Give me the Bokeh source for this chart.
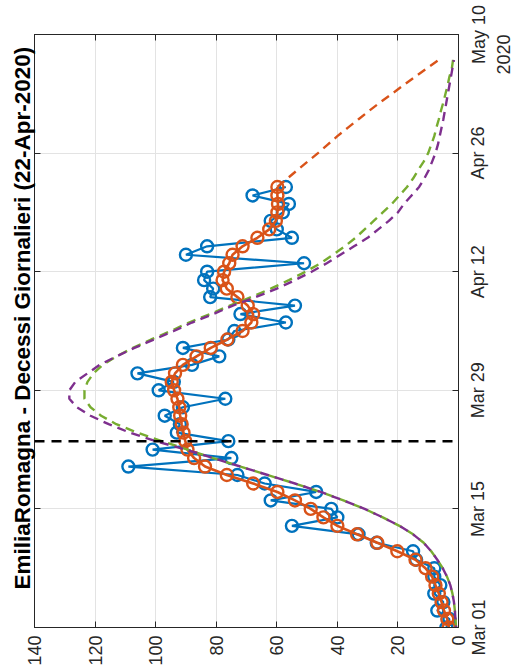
import math
import pandas as pd
from bokeh.plotting import figure
from bokeh.layouts import row
from bokeh.models import (Range1d, FixedTicker, DatetimeTickFormatter, LinearAxis,
                          DatetimeAxis, Span, Title)
from bokeh.embed import file_html
from bokeh.resources import INLINE

# ---------------- data ----------------
start_date = "2020-03-01"
end_date = "2020-05-10"
last_date = "2020-04-22"
lockdown_date = "2020-03-23"
date_ticks = ["2020-03-01", "2020-03-15", "2020-03-29", "2020-04-12", "2020-04-26", "2020-05-10"]
value_ticks = [0, 20, 40, 60, 80, 100, 120, 140]
title_text = "EmiliaRomagna - Decessi Giornalieri (22-Apr-2020)"
year_text = "2020"

daily_deaths = [4, 3, 7, 5, 8, 6, 8, 8, 14, 15, 27, 33, 55, 40, 42, 62, 47, 64, 73, 109,
                75, 101, 76, 93, 92, 97, 91, 77, 99, 94, 106, 88, 79, 91, 76, 74, 57, 72,
                54, 82, 81, 84, 83, 51, 90, 83, 55, 60, 62, 58, 56, 68, 57]
smoothed = [3.2, 3.7, 4.8, 5.6, 6.5, 7.6, 8.7, 10.9, 14.2, 20.2, 26.8, 33.5, 40, 44.6, 48.8,
            54, 59.8, 67.8, 76.5, 83.7, 87.3, 89.5, 90.2, 90.8, 91.4, 91.9, 92.2, 92.8, 93.9,
            94.7, 93.6, 91, 86.5, 81.8, 76.3, 71.3, 68.4, 67.8, 69.6, 73, 76.5, 77.9, 77.4,
            75.7, 74.6, 71.3, 66.4, 62.5, 60.3, 59.8, 59.6, 59.8, 59.8]
projection = [59.8, 56.5, 53.2, 49.8, 46.4, 43.2, 40, 36.5, 33, 29.5, 25.8, 22, 18.2, 14.4,
              10.5, 6.5]
fit_green = [0.8, 1, 1.2, 1.5, 2, 2.7, 3.8, 5.2, 7, 9, 11.5, 15, 19.5, 25, 31, 38, 45.5, 54,
             63, 72, 81, 89.5, 98, 106, 113, 118, 121.5, 123.5, 123.5, 122.5, 120.5, 117.5,
             113, 107.5, 101.5, 95, 89, 82, 75.5, 68.5, 62, 56, 50.5, 45.5, 41.5, 37.5, 34,
             31, 28, 25, 22, 19.5, 17, 15, 13.3, 11.5, 10, 9, 8, 7.3, 6.5, 5.8, 5, 4.3, 3.6,
             3, 2.2, 1.8]
fit_purple = [0.8, 1, 1.2, 1.5, 2, 2.7, 3.8, 5.2, 7, 9, 11.5, 15, 19.5, 25, 31, 38, 45.5, 54,
              63, 72, 81, 90, 100, 108.5, 115.5, 121.5, 126, 128.5, 128.5, 126.5, 122.5,
              118.5, 113, 107, 100.5, 94, 88, 81, 74.5, 67, 60, 54, 48.5, 43.5, 39, 34.5, 30,
              26.5, 23, 20, 18, 15.5, 13, 11.3, 9.8, 8.7, 7.6, 6.8, 6.2, 5.6, 5, 4.5, 4, 3.5,
              3, 2.5, 2, 1.5]

# ---------------- style ----------------
BLUE = "#0072BD"
ORANGE = "#D95319"
GREEN = "#77AC30"
PURPLE = "#7E2F8E"
AXC = "#262626"
FONT = "Liberation Sans"
FS = 18
FRAME_H = 594
DAY_MS = 86400000.0


def ms(ts):
    return pd.Timestamp(ts).timestamp() * 1000.0


CHAR_W = {"M": .833, "a": .556, "r": .333, " ": .278, "A": .667, "p": .556, "y": .5}


def text_px(s, fs):
    return sum(CHAR_W.get(c, .556) for c in s) * fs


obs_dates = pd.date_range(start_date, periods=len(daily_deaths))
proj_dates = pd.date_range(last_date, periods=len(projection))
fit_dates = pd.date_range(start_date, periods=len(fit_green))

n_days = (pd.Timestamp(end_date) - pd.Timestamp(start_date)).days
px_per_day = FRAME_H / n_days

y_rng = Range1d(ms(start_date), ms(end_date))

p = figure(width=466, height=668,
           x_range=Range1d(140, 0), y_range=y_rng,
           y_axis_type="datetime", y_axis_location="right",
           output_backend="svg", toolbar_location=None,
           min_border_left=34, min_border_top=34, min_border_right=8, min_border_bottom=40)
p.background_fill_color = "white"
p.border_fill_color = "white"
p.outline_line_color = AXC
p.outline_line_width = 1

x_ticker = FixedTicker(ticks=value_ticks)
y_ticker = FixedTicker(ticks=[ms(d) for d in date_ticks])
date_fmt = DatetimeTickFormatter(days="%b %d", months="%b %d", years="%b %d", hours="%b %d")

xa = p.xaxis[0]
ya = p.yaxis[0]
xa.ticker = x_ticker
ya.ticker = y_ticker
ya.formatter = date_fmt
p.xgrid.ticker = x_ticker
p.ygrid.ticker = y_ticker
p.grid.grid_line_color = "#e3e3e3"
p.grid.grid_line_width = 1

top = LinearAxis(ticker=x_ticker)
left = DatetimeAxis(ticker=y_ticker, formatter=date_fmt)
p.add_layout(top, "above")
p.add_layout(left, "left")

for ax in [xa, ya, top, left]:
    ax.major_tick_in = 6
    ax.major_tick_out = 0
    ax.minor_tick_in = 0
    ax.minor_tick_out = 0
    ax.axis_line_color = AXC
    ax.major_tick_line_color = AXC
    ax.major_label_text_font = FONT
    ax.major_label_text_color = AXC
for ax in [ya, top, left]:
    ax.major_label_text_font_size = "0px"
    ax.major_label_standoff = 0
left.major_label_standoff = 9

xa.major_label_text_font_size = f"{FS}px"
xa.major_label_orientation = math.pi / 2
xa.major_label_standoff = 8

# observed daily deaths
p.line(daily_deaths, obs_dates, line_color=BLUE, line_width=2.2)
p.scatter(daily_deaths, obs_dates, marker="circle", size=12, fill_color=None,
          line_color=BLUE, line_width=2.4)
# smoothed
p.line(smoothed, obs_dates, line_color=ORANGE, line_width=2.6)
p.scatter(smoothed, obs_dates, marker="circle", size=12, fill_color=None,
          line_color=ORANGE, line_width=2.4)
# projections / fits
p.line(projection, proj_dates, line_color=ORANGE, line_width=2.4, line_dash="9 6")
p.line(fit_green, fit_dates, line_color=GREEN, line_width=2.4, line_dash="9 6")
p.line(fit_purple, fit_dates, line_color=PURPLE, line_width=2.4, line_dash="9 6",
       line_dash_offset=7)

p.add_layout(Span(location=ms(lockdown_date), dimension="width", line_color="black",
                  line_width=2.5, line_dash="10 7"))

p.add_layout(Title(text=title_text, align="left", text_font=FONT, text_font_size="22.5px",
                   text_font_style="bold", text_color="black", standoff=0, offset=38), "left")

# ---- narrow companion panel carrying the date labels (read bottom-to-top, centred) ----
p2 = figure(width=46, height=668, x_range=Range1d(0, 1), y_range=y_rng,
            x_axis_location=None, y_axis_location=None,
            output_backend="svg", toolbar_location=None,
            min_border_left=45, min_border_right=0, min_border_top=34, min_border_bottom=40)
p2.outline_line_color = None
p2.background_fill_color = "white"
p2.border_fill_color = "white"
p2.grid.visible = False

year_pos = [ms(end_date) - text_px(year_text, FS) / 2 / px_per_day * DAY_MS]
year_axis = DatetimeAxis(ticker=FixedTicker(ticks=year_pos),
                         major_label_overrides={year_pos[0]: year_text})
lab_axis = DatetimeAxis(ticker=y_ticker, formatter=date_fmt)
for ax, so in [(year_axis, 2), (lab_axis, 6)]:
    ax.axis_line_color = None
    ax.major_tick_line_color = None
    ax.minor_tick_line_color = None
    ax.major_tick_in = 0
    ax.major_tick_out = 0
    ax.minor_tick_in = 0
    ax.minor_tick_out = 0
    ax.major_label_text_font = FONT
    ax.major_label_text_font_size = f"{FS}px"
    ax.major_label_text_color = AXC
    ax.major_label_orientation = "parallel"
    ax.major_label_standoff = so
p2.add_layout(year_axis, "left")
p2.add_layout(lab_axis, "left")

open("out.html", "w").write(file_html(row(p, p2), INLINE))
